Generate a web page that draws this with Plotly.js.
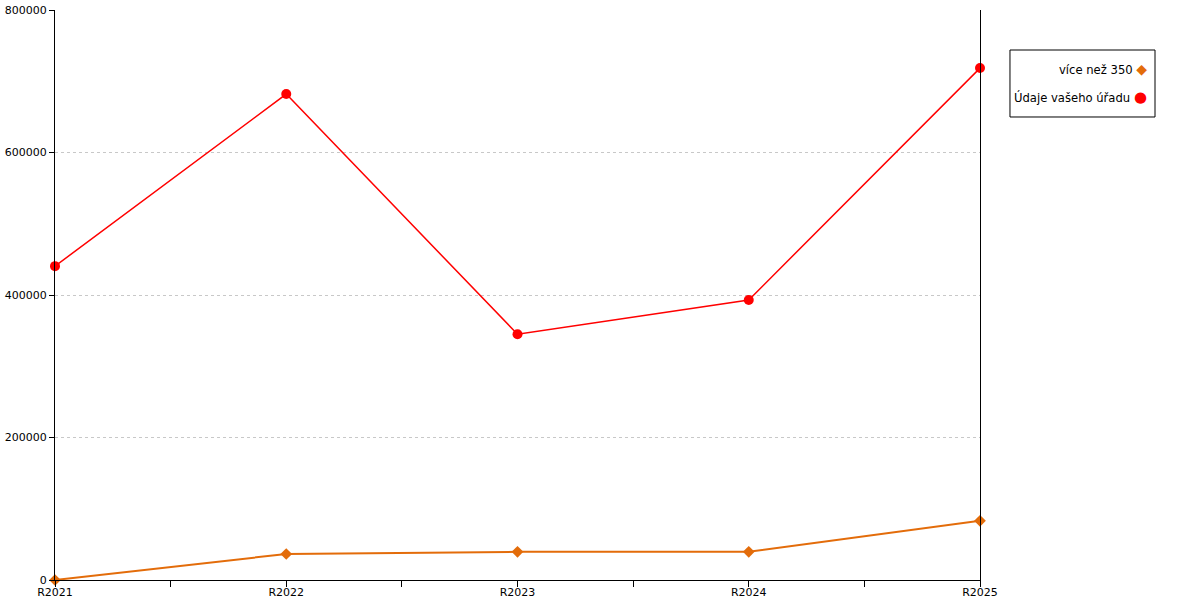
<!DOCTYPE html>
<html><head><meta charset="utf-8">
<script src="https://cdn.plot.ly/plotly-3.0.1.min.js"></script>
<style>html,body{margin:0;padding:0;background:#fff}#c{width:1200px;height:600px}</style>
</head><body><div id="c"></div>
<script>
const categories = ["R2021","R2022","R2023","R2024","R2025"];
const seriesNames = ["více než 350","Údaje vašeho úřadu"];
const vice350 = [0, 36500, 39500, 39500, 83000];
const udaje = [440500, 682000, 345000, 393000, 718500];
const yTicks = [0, 200000, 400000, 600000, 800000];

const xIdx = categories.map((_, i) => i);
const tickvals = [], ticktext = [];
categories.forEach((c, i) => {
  tickvals.push(i); ticktext.push(c);
  if (i < categories.length - 1) { tickvals.push(i + 0.5); ticktext.push(""); }
});

const font = {family: "DejaVu Sans, Verdana, sans-serif", size: 11, color: "#000"};
const traces = [
  {x: xIdx, y: vice350, name: seriesNames[0], mode: "lines+markers", cliponaxis: false,
   line: {color: "#e36c0a", width: 2}, marker: {symbol: "diamond", size: 9, color: "#e36c0a"}, showlegend: false},
  {x: xIdx, y: udaje, name: seriesNames[1], mode: "lines+markers", cliponaxis: false,
   line: {color: "#ff0000", width: 1.5}, marker: {symbol: "circle", size: 10, color: "#ff0000"}, showlegend: false}
];
const layout = {
  width: 1200, height: 600, margin: {l: 55, r: 220, t: 10, b: 20},
  paper_bgcolor: "#fff", plot_bgcolor: "#fff", font: font, showlegend: false,
  xaxis: {range: [0, categories.length - 1], tickvals: tickvals, ticktext: ticktext,
    showgrid: false, zeroline: false, showline: true, linecolor: "#000", linewidth: 1,
    ticks: "outside", ticklen: 6, tickcolor: "#000", tickfont: font, fixedrange: true,
    ticklabelstandoff: -4},
  yaxis: {range: [0, 800000], tickvals: yTicks, ticktext: yTicks.map(String),
    showgrid: true, gridcolor: "#c8c8c8", griddash: "dot", gridwidth: 1,
    zeroline: false, showline: true, linecolor: "#000", linewidth: 1, mirror: true,
    ticks: "outside", ticklen: 5, tickcolor: "#000", tickfont: font},
  shapes: [
    {type: "rect", xref: "paper", yref: "paper", x0: 1.0324, x1: 1.1892, y0: 0.8123, y1: 0.9298,
     line: {color: "#000", width: 1}, fillcolor: "#fff"}
  ],
  annotations: [
    {xref: "paper", yref: "paper", x: 1.183, y: 0.8965, xanchor: "right", yanchor: "middle", showarrow: false,
     text: seriesNames[0] + " <span style='color:#e36c0a;font-size:14px'>◆</span>", font: {family: font.family, size: 11.6, color: "#000"}},
    {xref: "paper", yref: "paper", x: 1.183, y: 0.8474, xanchor: "right", yanchor: "middle", showarrow: false,
     text: seriesNames[1] + " <span style='color:#ff0000;font-size:15px'>●</span>", font: {family: font.family, size: 11.6, color: "#000"}}
  ]
};
Plotly.newPlot("c", traces, layout, {displayModeBar: false, staticPlot: true});
</script></body></html>
